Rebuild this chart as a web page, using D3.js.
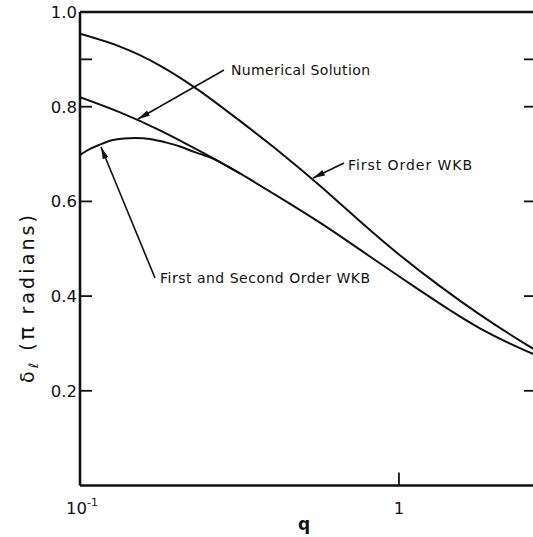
<!DOCTYPE html>
<html>
<head>
<meta charset="utf-8">
<script src="https://cdn.jsdelivr.net/npm/d3@7"></script>
<style>
  body { margin: 0; background: #fff; }
  text { font-family: "DejaVu Sans", sans-serif; fill: #111; }
</style>
</head>
<body>
<svg id="chart" width="533" height="537"></svg>
<script>
// values (q on a log axis, delta in units of pi)
const qFirstOrder = [0.1, 0.1335, 0.1781, 0.2378, 0.3173, 0.4236, 0.5655, 0.7547, 1.0, 1.344, 1.794, 2.395, 2.767];
const vFirstOrder = [0.954, 0.927, 0.887, 0.833, 0.770, 0.704, 0.633, 0.558, 0.488, 0.421, 0.361, 0.306, 0.281];

const qNumerical = [0.1, 0.1335, 0.1781, 0.2378, 0.3173, 0.4236, 0.5655, 0.7547, 1.0, 1.344, 1.794, 2.395, 2.767];
const vNumerical = [0.820, 0.788, 0.750, 0.706, 0.659, 0.608, 0.555, 0.498, 0.442, 0.384, 0.332, 0.290, 0.272];

const qSecondOrder = [0.1, 0.1075, 0.1155, 0.1259, 0.1373, 0.1487, 0.1657, 0.1847, 0.2058, 0.2293, 0.2556, 0.2748, 0.3173];
const vSecondOrder = [0.698, 0.711, 0.720, 0.729, 0.733, 0.734, 0.732, 0.725, 0.716, 0.704, 0.693, 0.683, 0.659];

const yTickValues = [0.2, 0.4, 0.6, 0.8, 0.9];
const yLabelValues = [0.2, 0.4, 0.6, 0.8, 1.0];
const xTickValues = [1];

const svg = d3.select("#chart");

const x = d3.scaleLog().domain([0.1, 2.69]).range([80, 536]);
const y = d3.scaleLinear().domain([0, 1]).range([485.5, 12]);

const ink = "#111";

// arrowhead for the annotation pointers
svg.append("defs").append("marker")
    .attr("id", "arrow")
    .attr("viewBox", "0 -4 12 8")
    .attr("refX", 12).attr("refY", 0)
    .attr("markerUnits", "userSpaceOnUse")
    .attr("markerWidth", 12).attr("markerHeight", 8)
    .attr("orient", "auto")
  .append("path")
    .attr("d", "M0,-3L12,0L0,3Z")
    .attr("fill", ink);

// --- frame ---
const frame = svg.append("g").attr("stroke", ink).attr("fill", "none");
frame.append("line").attr("x1", x(0.1)).attr("x2", x(0.1)).attr("y1", y(1)).attr("y2", y(0)).attr("stroke-width", 2.6);
frame.append("line").attr("x1", x(0.1)).attr("x2", x.range()[1]).attr("y1", y(0)).attr("y2", y(0)).attr("stroke-width", 2.4);
frame.append("line").attr("x1", x(0.1)).attr("x2", x.range()[1]).attr("y1", y(1)).attr("y2", y(1)).attr("stroke-width", 2.4);
frame.append("line").attr("x1", x.range()[1]).attr("x2", x.range()[1]).attr("y1", y(1)).attr("y2", y(0)).attr("stroke-width", 2.4);

// inward ticks on both vertical sides
frame.selectAll("line.ytl").data(yTickValues).join("line")
    .attr("class", "ytl")
    .attr("x1", x(0.1)).attr("x2", x(0.1) + 12)
    .attr("y1", d => y(d)).attr("y2", d => y(d))
    .attr("stroke-width", 1.8);
frame.selectAll("line.ytr").data(yTickValues).join("line")
    .attr("class", "ytr")
    .attr("x1", x.range()[1]).attr("x2", x.range()[1] - 12)
    .attr("y1", d => y(d)).attr("y2", d => y(d))
    .attr("stroke-width", 1.8);
frame.selectAll("line.xt").data(xTickValues).join("line")
    .attr("class", "xt")
    .attr("x1", d => x(d)).attr("x2", d => x(d))
    .attr("y1", y(0)).attr("y2", y(0) - 13)
    .attr("stroke-width", 1.8);

// tick labels
svg.selectAll("text.ylab").data(yLabelValues).join("text")
    .attr("class", "ylab")
    .attr("x", x(0.1) - 3)
    .attr("y", d => y(d))
    .attr("dy", "0.36em")
    .attr("text-anchor", "end")
    .attr("font-size", 16.5)
    .text(d => d3.format(".1f")(d));

const tenth = svg.append("text")
    .attr("x", 66).attr("y", 514)
    .attr("font-size", 16.5);
tenth.append("tspan").text("10");
tenth.append("tspan").attr("font-size", 11).attr("dy", -8).text("-1");

svg.selectAll("text.xlab").data(xTickValues).join("text")
    .attr("class", "xlab")
    .attr("x", d => x(d)).attr("y", 514)
    .attr("text-anchor", "middle")
    .attr("font-size", 16.5)
    .text(d => d);

// axis titles
svg.append("text")
    .attr("x", 304).attr("y", 530)
    .attr("text-anchor", "middle")
    .attr("font-size", 17)
    .attr("font-weight", "bold")
    .text("q");

const ytitle = svg.append("text")
    .attr("transform", "translate(34,299) rotate(-90)")
    .attr("text-anchor", "middle")
    .attr("font-size", 19)
    .attr("textLength", 168)
    .attr("lengthAdjust", "spacing");
ytitle.append("tspan").text("δ");
ytitle.append("tspan").attr("font-size", 13).attr("dy", 4).text("ℓ");
ytitle.append("tspan").attr("dy", -4).text(" (");
ytitle.append("tspan").attr("font-size", 22).text("π");
ytitle.append("tspan").text(" radians)");

// --- curves ---
const line = d3.line()
    .x(d => x(d[0]))
    .y(d => y(d[1]))
    .curve(d3.curveNatural);

const series = [
  d3.zip(qFirstOrder, vFirstOrder),
  d3.zip(qNumerical, vNumerical),
  d3.zip(qSecondOrder, vSecondOrder)
];

svg.append("clipPath").attr("id", "plot")
  .append("rect").attr("x", x(0.1)).attr("y", y(1)).attr("width", x.range()[1] - x(0.1)).attr("height", y(0) - y(1));

svg.append("g").attr("clip-path", "url(#plot)")
  .selectAll("path").data(series).join("path")
    .attr("d", line)
    .attr("fill", "none")
    .attr("stroke", ink)
    .attr("stroke-width", 2);

// --- annotations: label text plus a pointer to a point on a curve ---
const notes = [
  { text: "Numerical Solution", tx: 231, ty: 75, len: 139, from: [224, 70], to: [138, 119] },
  { text: "First Order WKB", tx: 348, ty: 170, len: 124, from: [344, 163], to: [313, 178] },
  { text: "First and Second Order WKB", tx: 160, ty: 283, len: 210, from: [155, 278], to: [101, 147] }
];

svg.selectAll("line.note").data(notes).join("line")
    .attr("class", "note")
    .attr("x1", d => d.from[0]).attr("y1", d => d.from[1])
    .attr("x2", d => d.to[0]).attr("y2", d => d.to[1])
    .attr("stroke", ink)
    .attr("stroke-width", 1.6)
    .attr("marker-end", "url(#arrow)");

svg.selectAll("text.note").data(notes).join("text")
    .attr("class", "note")
    .attr("x", d => d.tx).attr("y", d => d.ty)
    .attr("font-size", 14)
    .attr("textLength", d => d.len)
    .attr("lengthAdjust", "spacing")
    .text(d => d.text);
</script>
</body>
</html>
